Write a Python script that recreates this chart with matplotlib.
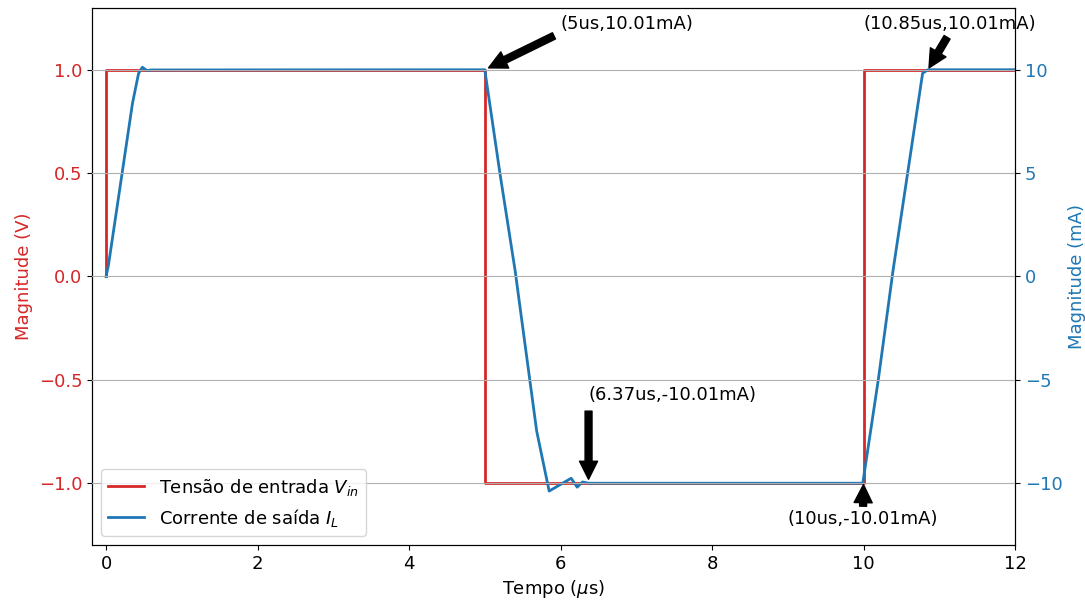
import matplotlib
matplotlib.use("Agg")
import matplotlib.pyplot as plt

plt.rcParams['font.size'] = 13

# Input voltage (V): square wave
t_v = [0, 0, 5, 5, 10, 10, 12]
v_in = [0, 1, 1, -1, -1, 1, 1]

# Output current (mA)
t_i = [0, 0.03, 0.35, 0.43, 0.48, 0.54, 0.60, 5.00, 5.20, 5.40, 5.685, 5.85,
       6.14, 6.22, 6.29, 6.37, 9.99, 10.195, 10.39, 10.78, 10.85, 12]
i_L = [0, 0.5, 8.4, 9.84, 10.13, 9.97, 10.0, 10.01, 5.0, 0.3, -7.48, -10.39,
       -9.77, -10.2, -9.95, -10.01, -10.01, -5.0, 0.3, 9.84, 10.01, 10.01]

# Annotated points: (text, point, text position)
notes = [
    ("(5us,10.01mA)", (5.0, 10.01), (6.0, 12.0)),
    ("(10.85us,10.01mA)", (10.85, 10.01), (10.0, 12.0)),
    ("(6.37us,-10.01mA)", (6.37, -10.01), (6.37, -6.0)),
    ("(10us,-10.01mA)", (10.0, -10.01), (9.0, -12.0)),
]

red = 'tab:red'
blue = 'tab:blue'

fig, ax1 = plt.subplots(figsize=(10.85, 6.01), dpi=100)
fig.subplots_adjust(left=0.0848, right=0.9355, top=0.9867, bottom=0.0932)

l1, = ax1.plot(t_v, v_in, color=red, lw=2, label='Tensão de entrada $V_{in}$')
ax1.set_xlim(-0.185, 12)
ax1.set_ylim(-1.3, 1.3)
ax1.set_yticks([-1.0, -0.5, 0.0, 0.5, 1.0])
ax1.set_xlabel(r'Tempo ($\mu$s)')
ax1.set_ylabel('Magnitude (V)', color=red)
ax1.tick_params(axis='y', labelcolor=red)

ax2 = ax1.twinx()
l2, = ax2.plot(t_i, i_L, color=blue, lw=2, label='Corrente de saída $I_L$')
ax2.set_ylim(-13, 13)
ax2.set_yticks([-10, -5, 0, 5, 10])
ax2.set_ylabel('Magnitude (mA)', color=blue)
ax2.tick_params(axis='y', labelcolor=blue)
ax2.grid(axis='y', color='#b0b0b0', lw=0.8)
ax2.set_axisbelow(False)

for text, xy, xytext in notes:
    ax2.annotate(text, xy=xy, xytext=xytext, fontsize=13,
                 arrowprops=dict(facecolor='black', edgecolor='black',
                                 shrink=0.05, width=5, headwidth=13,
                                 headlength=13))

ax2.legend(handles=[l1, l2], loc='lower left', fontsize=13)

fig.savefig('out.png', dpi=100)
